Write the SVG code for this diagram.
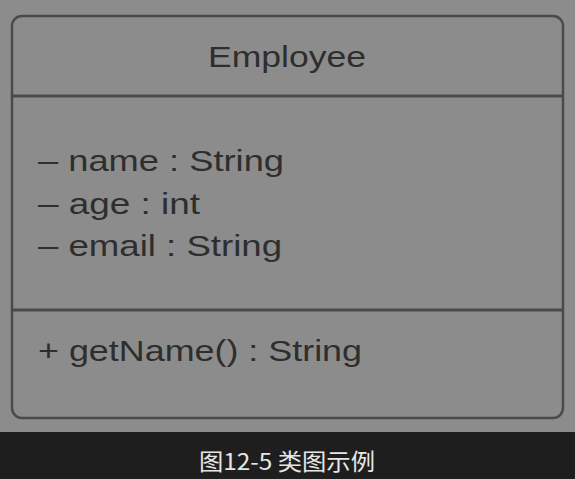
<svg xmlns="http://www.w3.org/2000/svg" width="575" height="479" viewBox="0 0 575 479">
<style>
.t{font-family:"Liberation Sans","Noto Sans CJK SC",sans-serif;fill:#2e2e2e}
.attr{font-size:30px}
.line{stroke:#4a4a4a;stroke-width:3;fill:none}
</style>
<rect x="0" y="0" width="575" height="479" fill="#8c8c8c"/>
<g id="employee">
<rect x="12" y="16" width="551" height="402" rx="10" fill="#8c8c8c" stroke="#4a4a4a" stroke-width="2.5"/>
<line class="line" x1="12" y1="96" x2="563" y2="96"/>
<line class="line" x1="12" y1="310" x2="563" y2="310"/>
<text class="t" x="287" y="67" font-size="29" text-anchor="middle" textLength="158" lengthAdjust="spacingAndGlyphs">Employee</text>
<text class="t attr" x="38" y="171" textLength="246" lengthAdjust="spacingAndGlyphs">– name : String</text>
<text class="t attr" x="38" y="214" textLength="162" lengthAdjust="spacingAndGlyphs">– age : int</text>
<text class="t attr" x="38" y="256" textLength="244" lengthAdjust="spacingAndGlyphs">– email : String</text>
<text class="t attr" x="38" y="361" textLength="324" lengthAdjust="spacingAndGlyphs">+ getName() : String</text>
</g>
<rect x="0" y="432" width="575" height="47" fill="#1e1e1e"/>
<text x="287" y="470" font-size="23" text-anchor="middle" fill="#e6e6e6" font-family="'Noto Sans CJK SC','Liberation Sans',sans-serif" textLength="176" lengthAdjust="spacingAndGlyphs">图12-5 类图示例</text>
</svg>
